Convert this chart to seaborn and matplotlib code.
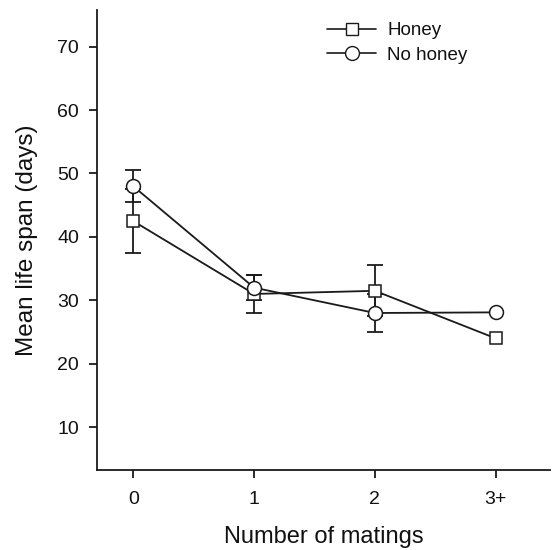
import matplotlib
matplotlib.use("Agg")
import matplotlib.pyplot as plt
import seaborn as sns
import pandas as pd
import numpy as np
from matplotlib.lines import Line2D

categories = ["0", "1", "2", "3+"]
honey = [42.5, 31.0, 31.5, 24.0]
honey_err = [5.0, 3.0, 4.0, np.nan]
no_honey = [48.0, 32.0, 28.0, 28.1]
no_honey_err = [2.5, 2.0, 3.0, np.nan]

sns.set_theme(style="ticks")
plt.rcParams['font.family'] = ['Liberation Sans', 'DejaVu Sans']
plt.rcParams['text.color'] = '#111111'
plt.rcParams['axes.labelcolor'] = '#111111'
plt.rcParams['xtick.color'] = '#111111'
plt.rcParams['ytick.color'] = '#111111'

INK = "#1a1a1a"

df = pd.DataFrame({
    "pos": list(range(len(categories))) * 2,
    "mean": honey + no_honey,
    "err": honey_err + no_honey_err,
    "group": ["Honey"] * 4 + ["No honey"] * 4,
})

fig = plt.figure(figsize=(5.54, 5.5), dpi=100)
ax = fig.add_axes([0.175, 0.145, 0.818, 0.837])

# error bars
for g, sub in df.groupby("group"):
    ax.errorbar(sub["pos"], sub["mean"], yerr=sub["err"], fmt="none",
                ecolor=INK, elinewidth=1.3, capsize=5.5, capthick=1.3, zorder=2)

sns.lineplot(data=df, x="pos", y="mean", style="group",
             markers={"Honey": "s", "No honey": "o"}, dashes=False,
             color=INK, linewidth=1.3, ax=ax, legend=False,
             markerfacecolor="white", markeredgecolor=INK,
             markeredgewidth=1.1, zorder=3)
for line in ax.get_lines():
    if line.get_marker() == "s":
        line.set_markersize(8)
    elif line.get_marker() == "o":
        line.set_markersize(10)

ax.set_xlim(-0.3, 3.45)
ax.set_ylim(3.2, 75.8)
ax.set_xticks(range(len(categories)))
ax.set_xticklabels(categories)
ax.set_yticks([10, 20, 30, 40, 50, 60, 70])
ax.tick_params(axis="both", labelsize=14, length=6, width=1.3, color=INK, pad=7)
ax.tick_params(axis="x", pad=9)
ax.set_xlabel("Number of matings", fontsize=17, labelpad=13)
ax.set_ylabel("Mean life span (days)", fontsize=17.5, labelpad=14)
sns.despine(ax=ax)
for s in ["left", "bottom"]:
    ax.spines[s].set_linewidth(1.3)
    ax.spines[s].set_color(INK)

handles = [
    Line2D([], [], color=INK, lw=1.2, marker="s", markersize=8,
           markerfacecolor="white", markeredgecolor=INK),
    Line2D([], [], color=INK, lw=1.2, marker="o", markersize=10,
           markerfacecolor="white", markeredgecolor=INK),
]
ax.legend(handles, ["Honey", "No honey"], loc="upper right",
          bbox_to_anchor=(0.855, 1.01), frameon=False, fontsize=13.5,
          handlelength=2.6, handletextpad=0.6, labelspacing=0.4)

fig.savefig("out.png", dpi=100)
